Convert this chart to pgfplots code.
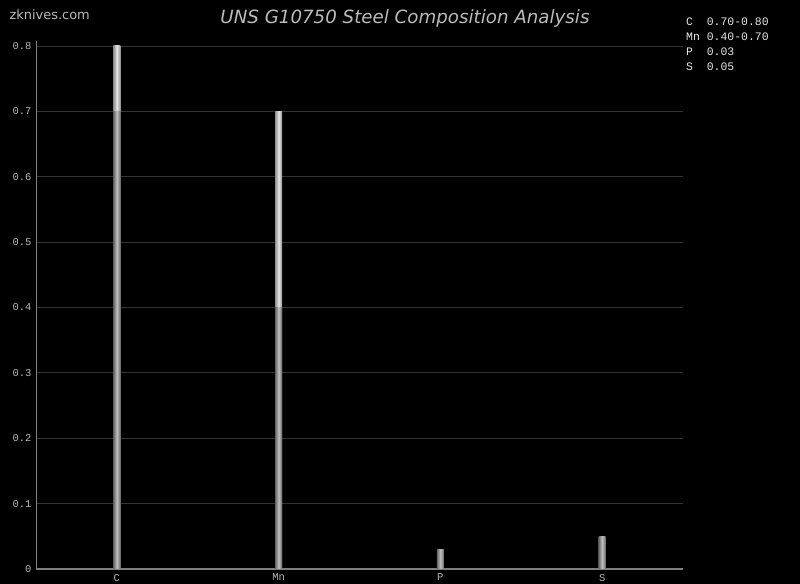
\documentclass[border=0pt]{standalone}
\usepackage{pgfplots}
\pgfplotsset{compat=1.18}
\usepackage{fontspec}
\setmainfont{DejaVu Sans}
\newfontfamily\monofont{Liberation Mono}
\definecolor{gridc}{HTML}{333333}
\definecolor{axisc}{HTML}{808080}
\definecolor{tickc}{HTML}{B8B8B8}
\definecolor{titlec}{HTML}{BBBBBB}
\definecolor{barD}{HTML}{666666}
\definecolor{barM}{HTML}{C0C0C0}
\definecolor{barLD}{HTML}{909090}
\definecolor{barLM}{HTML}{E6E6E6}
\begin{document}
\begin{tikzpicture}[x=1bp,y=1bp]
\fill[black] (0,0) rectangle (800,584);
\useasboundingbox (0,0) rectangle (800,584);
\begin{axis}[
  at={(36bp,15bp)}, anchor=south west,
  scale only axis, width=647bp, height=528bp,
  xmin=-0.5, xmax=3.5, ymin=0, ymax=0.8076,
  axis x line*=bottom, axis y line*=left,
  axis line style={axisc, line width=0.8pt},
  x axis line style={-, line width=1.5pt, color=axisc},
  y axis line style={-},
  xtick={0,1,2,3}, xticklabels={C,Mn,P,S},
  ytick={0,0.1,0.2,0.3,0.4,0.5,0.6,0.7,0.8},
  yticklabels={0,0.1,0.2,0.3,0.4,0.5,0.6,0.7,0.8},
  major tick length=0pt,
  ymajorgrids, grid style={gridc, line width=0.8pt},
  tick label style={font=\monofont\fontsize{10.5}{11}\selectfont, text=tickc},
  yticklabel style={xshift=-1bp},
  xticklabel style={yshift=-1.5bp},
  ybar, bar width=7bp, bar shift=0pt,
  lightbar/.style={draw=none, left color=barLD, right color=barLD, middle color=barLM},
  darkbar/.style={draw=none, left color=barD, right color=barD, middle color=barM},
]
\addplot[lightbar] coordinates {(0,0.80)};
\addplot[lightbar] coordinates {(1,0.70)};
\addplot[darkbar] coordinates {(0,0.70)};
\addplot[darkbar] coordinates {(1,0.40)};
\addplot[darkbar] coordinates {(2,0.03)};
\addplot[darkbar] coordinates {(3,0.05)};
\end{axis}
\node[anchor=west, text=titlec, font=\fontsize{13}{15}\selectfont] at (6,569) {zknives.com};
\node[text=titlec, font=\itshape\fontsize{18.3}{20}\selectfont] at (405,566) {UNS G10750 Steel Composition Analysis};
\node[anchor=north west, align=left, text=barLM, inner sep=0pt,
      font=\monofont\fontsize{11.5}{15}\selectfont] at (686,566)
  {C\ \ 0.70-0.80\\Mn 0.40-0.70\\P\ \ 0.03\\S\ \ 0.05};
\end{tikzpicture}
\end{document}
